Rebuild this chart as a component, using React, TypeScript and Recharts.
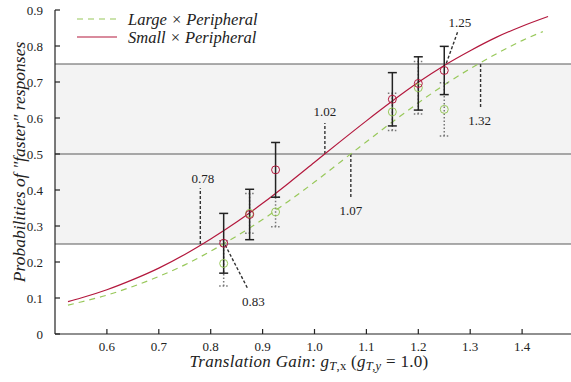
import React from 'react';
import {
  ComposedChart,
  Line,
  Scatter,
  ErrorBar,
  XAxis,
  YAxis,
  ReferenceArea,
  ReferenceLine,
  ReferenceDot,
} from 'recharts';

// ---- data ----
const curveXSmall = [0.525, 0.55, 0.6, 0.65, 0.7, 0.75, 0.8, 0.85, 0.9, 0.95, 1.0, 1.05, 1.1, 1.15, 1.2, 1.25, 1.3, 1.35, 1.4, 1.45];
const curveYSmall = [0.09, 0.1, 0.123, 0.151, 0.183, 0.221, 0.264, 0.311, 0.363, 0.419, 0.477, 0.535, 0.592, 0.647, 0.699, 0.746, 0.787, 0.824, 0.855, 0.882];
const curveXLarge = [0.525, 0.55, 0.6, 0.65, 0.7, 0.75, 0.8, 0.85, 0.9, 0.95, 1.0, 1.05, 1.1, 1.15, 1.2, 1.25, 1.3, 1.35, 1.4, 1.44];
const curveYLarge = [0.08, 0.089, 0.108, 0.132, 0.16, 0.192, 0.23, 0.272, 0.318, 0.369, 0.422, 0.478, 0.534, 0.589, 0.642, 0.692, 0.737, 0.778, 0.815, 0.84];

const gains = [0.825, 0.875, 0.925, 1.15, 1.2, 1.25];
const smallMeans = [0.252, 0.332, 0.456, 0.652, 0.696, 0.732];
const smallErr = [0.083, 0.07, 0.076, 0.074, 0.074, 0.067];
const largeMeans = [0.196, 0.335, 0.339, 0.617, 0.684, 0.624];
const largeErr = [0.063, 0.055, 0.041, 0.052, 0.073, 0.074];

const xTicks = [0.6, 0.7, 0.8, 0.9, 1.0, 1.1, 1.2, 1.3, 1.4];
const xTickLabels = ['0.6', '0.7', '0.8', '0.9', '1.0', '1.1', '1.2', '1.3', '1.4'];
const yTicks = [0, 0.1, 0.2, 0.3, 0.4, 0.5, 0.6, 0.7, 0.8, 0.9];
const yTickLabels = ['0', '0.1', '0.2', '0.3', '0.4', '0.5', '0.6', '0.7', '0.8', '0.9'];
const thresholds = [0.25, 0.5, 0.75];

const seriesNames = ['Large × Peripheral', 'Small × Peripheral'];

// annotation values (PSE / JND points) and where their labels sit
const annoValues = ['0.78', '1.02', '1.07', '0.83', '1.25', '1.32'];
const annoSegments = [
  [{ x: 0.78, y: 0.25 }, { x: 0.78, y: 0.405 }],
  [{ x: 1.02, y: 0.5 }, { x: 1.02, y: 0.586 }],
  [{ x: 1.07, y: 0.5 }, { x: 1.07, y: 0.378 }],
  [{ x: 0.828, y: 0.247 }, { x: 0.871, y: 0.127 }],
  [{ x: 1.254, y: 0.752 }, { x: 1.277, y: 0.844 }],
  [{ x: 1.32, y: 0.75 }, { x: 1.32, y: 0.627 }],
];
const annoLabelPos = [
  { x: 0.785, y: 0.433 },
  { x: 1.02, y: 0.617 },
  { x: 1.07, y: 0.344 },
  { x: 0.882, y: 0.09 },
  { x: 1.28, y: 0.865 },
  { x: 1.318, y: 0.592 },
];

const smallCurve = curveXSmall.map((x, i) => ({ x, y: curveYSmall[i] }));
const largeCurve = curveXLarge.map((x, i) => ({ x, y: curveYLarge[i] }));
const smallPts = gains.map((x, i) => ({ x, y: smallMeans[i], err: smallErr[i] }));
const largePts = gains.map((x, i) => ({ x, y: largeMeans[i], err: largeErr[i] }));

const RED = '#b3183d';
const GREEN = '#98c85a';
const FONT = '"Liberation Serif", "Times New Roman", serif';

const YTick = (props: any) => {
  const { x, y, payload } = props;
  const idx = yTicks.indexOf(payload.value);
  return (
    <g>
      <line x1={x + 12} x2={x + 17} y1={y} y2={y} stroke="#222" strokeWidth={1.2} />
      <text x={x} y={y + 4.5} textAnchor="end" fontFamily={FONT} fontSize={13} fill="#222">
        {idx >= 0 ? yTickLabels[idx] : payload.value}
      </text>
    </g>
  );
};

const XTick = (props: any) => {
  const { x, y, payload } = props;
  const idx = xTicks.indexOf(payload.value);
  return (
    <g>
      <line x1={x} x2={x} y1={y - 8} y2={y - 13} stroke="#222" strokeWidth={1.2} />
      <text x={x} y={y + 8.5} textAnchor="middle" fontFamily={FONT} fontSize={13} fill="#222">
        {idx >= 0 ? xTickLabels[idx] : payload.value}
      </text>
    </g>
  );
};

const circleShape = (color: string) => (props: any) => (
  <circle cx={props.cx} cy={props.cy} r={4} fill="none" stroke={color} strokeWidth={1} />
);

const annoLabel = (text: string) => (props: any) => {
  const vb = props.viewBox || {};
  const cx = vb.cx !== undefined ? vb.cx : vb.x + (vb.width || 0) / 2;
  const cy = vb.cy !== undefined ? vb.cy : vb.y + (vb.height || 0) / 2;
  return (
    <text x={cx} y={cy + 4.5} textAnchor="middle" fontFamily={FONT} fontSize={13} fill="#222">
      {text}
    </text>
  );
};

export default function App() {
  return (
    <div style={{ position: 'absolute', left: 0, top: 0, width: 571, height: 382, overflow: 'hidden', background: '#fff' }}>
      <ComposedChart
        width={574}
        height={382}
        margin={{ top: 10, right: 0, bottom: 0, left: 0 }}
      >
        <XAxis
          type="number"
          dataKey="x"
          domain={[0.5, 1.5]}
          ticks={xTicks}
          allowDataOverflow
          height={48}
          axisLine={{ stroke: '#222', strokeWidth: 1.2 }}
          tickLine={false}
          tickSize={0}
          tickMargin={8}
          tick={<XTick />}
          interval={0}
        />
        <YAxis
          type="number"
          dataKey="y"
          domain={[0, 0.9]}
          ticks={yTicks}
          allowDataOverflow
          width={55}
          axisLine={{ stroke: '#222', strokeWidth: 1.2 }}
          tickLine={false}
          tickSize={0}
          tickMargin={12}
          tick={<YTick />}
          interval={0}
        />
        <ReferenceArea y1={thresholds[0]} y2={thresholds[2]} fill="#f3f3f3" fillOpacity={1} stroke="none" />
        {thresholds.map((t) => (
          <ReferenceLine key={t} y={t} stroke="#5a5a5a" strokeWidth={1.2} />
        ))}
        {annoSegments.map((seg, i) => (
          <ReferenceLine
            key={'seg' + i}
            segment={seg}
            stroke="#333"
            strokeWidth={1.4}
            strokeDasharray="3 2"
            ifOverflow="visible"
          />
        ))}
        {annoLabelPos.map((p, i) => (
          <ReferenceDot
            key={'lab' + i}
            x={p.x}
            y={p.y}
            r={0}
            fill="none"
            stroke="none"
            ifOverflow="visible"
            label={annoLabel(annoValues[i])}
          />
        ))}
        <Line
          data={largeCurve}
          dataKey="y"
          type="monotone"
          stroke={GREEN}
          strokeWidth={1.2}
          strokeDasharray="6 5"
          dot={false}
          activeDot={false}
          isAnimationActive={false}
        />
        <Line
          data={smallCurve}
          dataKey="y"
          type="monotone"
          stroke={RED}
          strokeWidth={1.2}
          dot={false}
          activeDot={false}
          isAnimationActive={false}
        />
        <Scatter data={largePts} dataKey="y" shape={circleShape(GREEN)} isAnimationActive={false}>
          <ErrorBar dataKey="err" direction="y" width={4.5} stroke="#777" strokeWidth={1.5} strokeDasharray="1.5 2" />
        </Scatter>
        <Scatter data={smallPts} dataKey="y" shape={circleShape(RED)} isAnimationActive={false}>
          <ErrorBar dataKey="err" direction="y" width={4.5} stroke="#222" strokeWidth={1.5} />
        </Scatter>
      </ComposedChart>

      <svg
        width={571}
        height={382}
        style={{ position: 'absolute', left: 0, top: 0, pointerEvents: 'none' }}
      >
        {/* legend */}
        <line x1={77} x2={117} y1={19} y2={19} stroke={GREEN} strokeWidth={1.2} strokeDasharray="6 5" />
        <text x={128} y={24.5} fontFamily={FONT} fontStyle="italic" fontSize={16.5} fill="#222">
          {seriesNames[0]}
        </text>
        <line x1={77} x2={117} y1={37} y2={37} stroke={RED} strokeWidth={1.2} />
        <text x={128} y={42.5} fontFamily={FONT} fontStyle="italic" fontSize={16.5} fill="#222">
          {seriesNames[1]}
        </text>

        {/* x axis title */}
        <text x={309} y={367} textAnchor="middle" fontFamily={FONT} fontSize={17} letterSpacing={0.3} fill="#222">
          <tspan fontStyle="italic">Translation Gain</tspan>
          <tspan>: </tspan>
          <tspan fontStyle="italic">g</tspan>
          <tspan fontSize={12.5} dy={3}>
            <tspan fontStyle="italic">T</tspan>,x
          </tspan>
          <tspan dy={-3}> (</tspan>
          <tspan fontStyle="italic">g</tspan>
          <tspan fontSize={12.5} dy={3} fontStyle="italic">T,y</tspan>
          <tspan dy={-3}> = 1.0)</tspan>
        </text>

        {/* y axis title */}
        <text
          x={19}
          y={162}
          transform="rotate(-90 19 162)"
          textAnchor="middle"
          dominantBaseline="central"
          fontFamily={FONT}
          fontStyle="italic"
          fontSize={17.5}
          fill="#222"
        >
          Probabilities of "faster" responses
        </text>
      </svg>
    </div>
  );
}
